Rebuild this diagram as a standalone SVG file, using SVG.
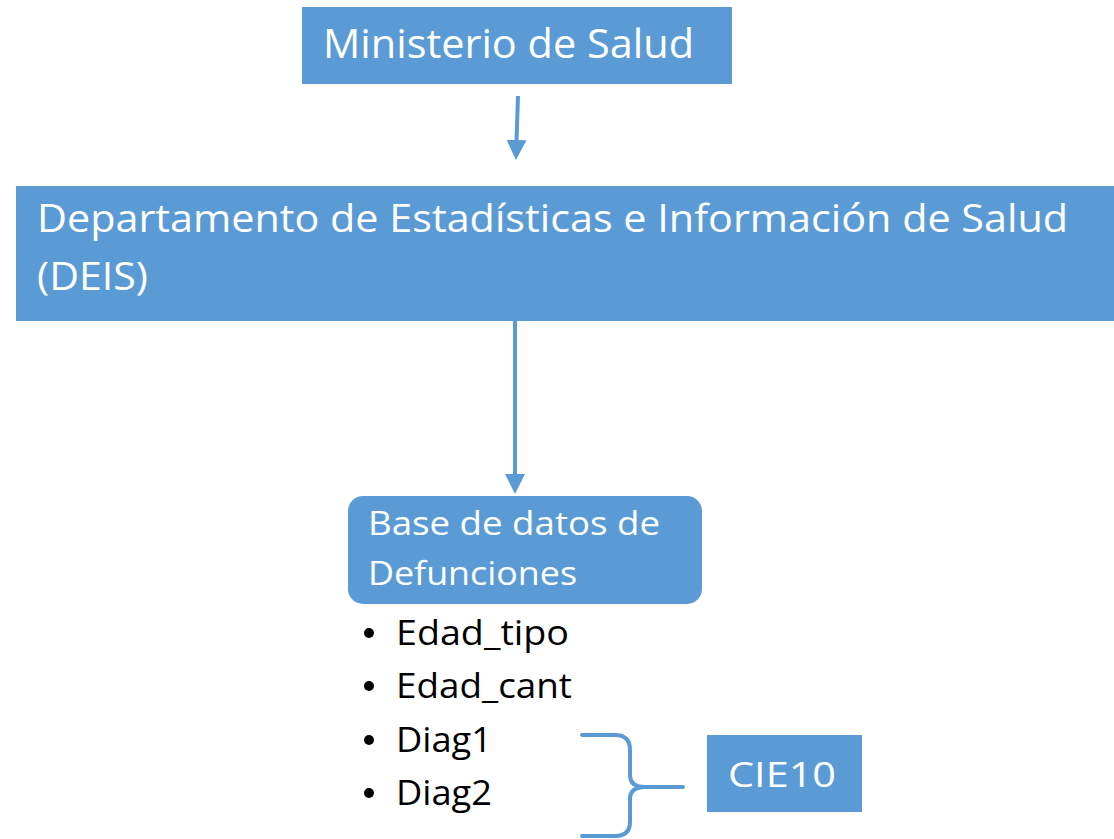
<svg xmlns="http://www.w3.org/2000/svg" width="1114" height="839" viewBox="0 0 1114 839">
<defs>
<style>
.box{fill:#5B9BD5}
.wt{fill:#fff;font-family:"Open Sans","Noto Sans",sans-serif}
.bt{fill:#000;font-family:"Open Sans","Noto Sans",sans-serif;font-size:34px}
.ln{stroke:#5B9BD5;stroke-width:4;fill:none}
</style>
<marker id="ah" markerWidth="5" markerHeight="5" refX="4" refY="2.5" orient="auto" markerUnits="strokeWidth">
<path d="M0,0 L5,2.5 L0,5 Z" fill="#5B9BD5"/>
</marker>
</defs>
<rect width="1114" height="839" fill="#fff"/>
<g id="connectors">
<line class="ln" x1="518" y1="96" x2="516" y2="156" marker-end="url(#ah)"/>
<line class="ln" x1="515" y1="321" x2="515" y2="490" marker-end="url(#ah)"/>
<path class="ln" stroke-width="5" stroke-linecap="round" d="M582,735 L615,735 Q630,735 630,750 L630,775 Q630,787 645,787 L683,787 M645,787 Q630,787 630,799 L630,822 Q630,836 615,836 L582,836"/>
</g>
<g id="ministerio">
<rect class="box" x="302" y="7" width="430" height="77"/>
<text class="wt" x="323" y="58" font-size="40" textLength="371" lengthAdjust="spacingAndGlyphs">Ministerio de Salud</text>
</g>
<g id="deis">
<rect class="box" x="16" y="186" width="1098" height="135"/>
<text class="wt" x="37" y="232" font-size="39" textLength="1031" lengthAdjust="spacingAndGlyphs">Departamento de Estadísticas e Información de Salud</text>
<text class="wt" x="37" y="290" font-size="39" textLength="111" lengthAdjust="spacingAndGlyphs">(DEIS)</text>
</g>
<g id="base">
<rect class="box" x="348" y="496" width="354" height="108" rx="15"/>
<text class="wt" x="368" y="535" font-size="33" textLength="292" lengthAdjust="spacingAndGlyphs">Base de datos de</text>
<text class="wt" x="368" y="585" font-size="33" textLength="209" lengthAdjust="spacingAndGlyphs">Defunciones</text>
</g>
<g id="campos">
<circle cx="369" cy="633" r="5"/>
<text class="bt" x="396" y="645" textLength="173" lengthAdjust="spacingAndGlyphs">Edad_tipo</text>
<circle cx="369" cy="686" r="5"/>
<text class="bt" x="396" y="698" textLength="176" lengthAdjust="spacingAndGlyphs">Edad_cant</text>
<circle cx="369" cy="740" r="5"/>
<text class="bt" x="396" y="752" textLength="96" lengthAdjust="spacingAndGlyphs">Diag1</text>
<circle cx="369" cy="793" r="5"/>
<text class="bt" x="396" y="805" textLength="96" lengthAdjust="spacingAndGlyphs">Diag2</text>
</g>
<g id="cie10">
<rect class="box" x="707" y="735" width="155" height="77"/>
<text class="wt" x="728" y="787" font-size="35" textLength="108" lengthAdjust="spacingAndGlyphs">CIE10</text>
</g>
</svg>
